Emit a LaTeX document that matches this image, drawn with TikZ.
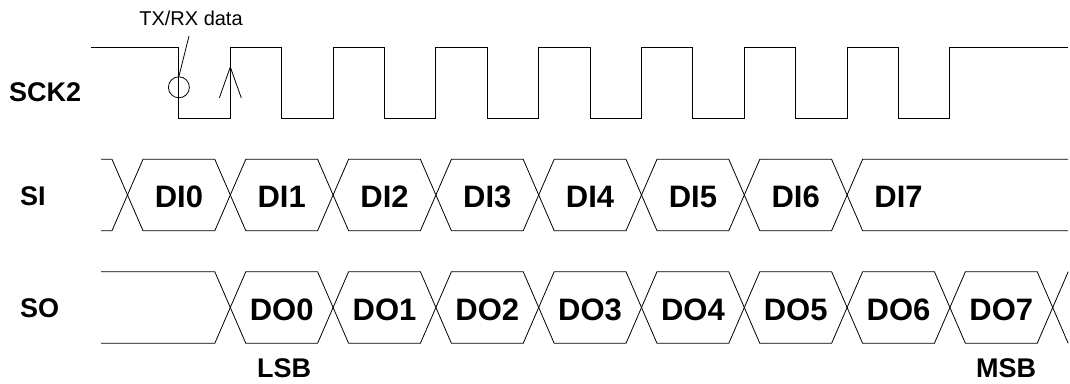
\documentclass[tikz,border=0pt]{standalone}
\usepackage{fontspec}
\setmainfont{Liberation Sans}
\begin{document}
\begin{tikzpicture}[x=1pt,y=-1pt,
  clk/.style={line width=1pt, line join=miter},
  sig/.style={line width=0.8pt, line join=miter},
  lbl/.style={font=\fontsize{27}{30}\selectfont\bfseries, anchor=west, inner sep=0pt},
  dat/.style={font=\fontsize{31}{34}\selectfont\bfseries, inner sep=0pt},
  note/.style={font=\fontsize{20}{24}\selectfont, inner sep=0pt}]
\useasboundingbox (0,0) rectangle (1070,383);
\def\P{102.8}
\def\cz{127.5}
\def\hw{15.5}
% --- SCK2 clock ---
\draw[clk] (91,47)
  \foreach \k in {0,...,7}{
    -- ({\cz+\P/2+\k*\P},47) -- ({\cz+\P/2+\k*\P},118)
    -- ({\cz+(\k+1)*\P},118) -- ({\cz+(\k+1)*\P},47) }
  -- (1068,47);
% circle marker and leader
\node[sig, draw, circle, minimum size=21pt, inner sep=0pt] (ring) at ({\cz+\P/2},87.3) {};
\node[note] (txrx) at (191,18) {TX/RX data};
\coordinate (lead) at (189,36);
\draw[sig] (ring.north) -- (lead);
% rising-edge arrow mark
\draw[sig] ({\cz+\P-11},98) -- ({\cz+\P},67) -- ({\cz+\P+11},98);
% --- SI ---
\def\ta{159.3} \def\ba{230.7} \def\ma{195}
\draw[sig] (101,\ta) -- ({\cz-\hw},\ta) -- (\cz,\ma) -- ({\cz-\hw},\ba) -- (101,\ba);
\foreach \k in {0,...,6}{
  \draw[sig] ({\cz+\k*\P},\ma) -- ({\cz+\k*\P+\hw},\ta) -- ({\cz+(\k+1)*\P-\hw},\ta)
    -- ({\cz+(\k+1)*\P},\ma) -- ({\cz+(\k+1)*\P-\hw},\ba) -- ({\cz+\k*\P+\hw},\ba) -- cycle;
  \node[dat] (di\k) at ({\cz+\k*\P+\P/2},197) {DI\k};
}
\draw[sig] (1068,\ta) -- ({\cz+7*\P+\hw},\ta) -- ({\cz+7*\P},\ma) -- ({\cz+7*\P+\hw},\ba) -- (1068,\ba);
\node[dat] (di7) at ({\cz+7*\P+\P/2},197) {DI7};
% --- SO ---
\def\tb{271.7} \def\bb{343.3} \def\mb{307.5}
\draw[sig] (101,\tb) -- ({\cz+\P-\hw},\tb) -- ({\cz+\P},\mb) -- ({\cz+\P-\hw},\bb) -- (101,\bb);
\foreach \k [evaluate=\k as \j using int(\k-1)] in {1,...,8}{
  \draw[sig] ({\cz+\k*\P},\mb) -- ({\cz+\k*\P+\hw},\tb) -- ({\cz+(\k+1)*\P-\hw},\tb)
    -- ({\cz+(\k+1)*\P},\mb) -- ({\cz+(\k+1)*\P-\hw},\bb) -- ({\cz+\k*\P+\hw},\bb) -- cycle;
  \node[dat] (do\j) at ({\cz+\k*\P+\P/2},310) {DO\j};
}
\draw[sig] ({\cz+9*\P+\hw},\tb) -- ({\cz+9*\P},\mb) -- ({\cz+9*\P+\hw},\bb);
% --- labels ---
\node[lbl] (sck) at (9,92) {SCK2};
\node[lbl] (si) at (20,196) {SI};
\node[lbl] (so) at (20,308) {SO};
\node[lbl, anchor=center] (lsb) at (284,368) {LSB};
\node[lbl, anchor=center] (msb) at (1006,368) {MSB};
\end{tikzpicture}
\end{document}
